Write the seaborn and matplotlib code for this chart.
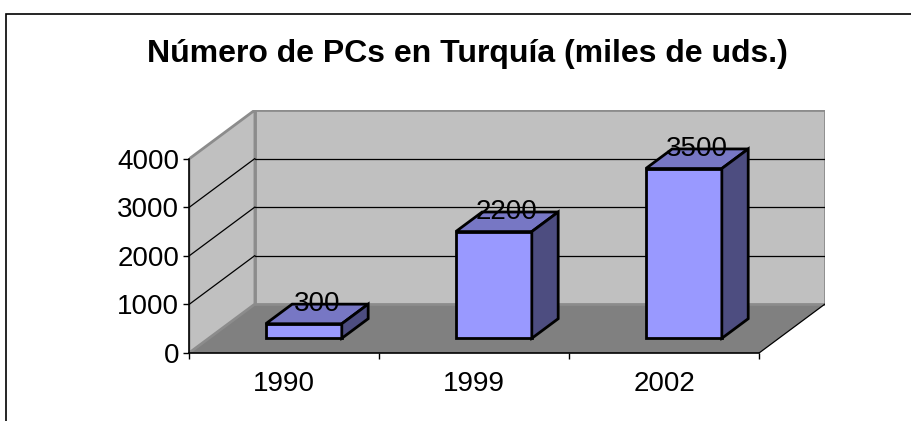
import numpy as np
import pandas as pd
import matplotlib
matplotlib.use("Agg")
import matplotlib.pyplot as plt
from matplotlib.patches import Polygon, Rectangle
import seaborn as sns

# data
years = ["1990", "1999", "2002"]
pcs = [300, 2200, 3500]
y_ticks = [0, 1000, 2000, 3000, 4000]
title = "Número de PCs en Turquía (miles de uds.)"

# fake 3d look: depth of the plot box in data units
DX = 0.347
DY = 1010
BAR_W = 0.4
D0, D1 = 0.3, 0.7   # bars sit between these depth fractions

sns.set_style("white")
plt.rcParams["font.family"] = ["Liberation Sans", "DejaVu Sans"]
plt.rcParams.update({"text.color": "black", "xtick.color": "black",
                     "ytick.color": "black", "axes.labelcolor": "black"})

fig = plt.figure(figsize=(9.12, 4.21), dpi=100)
ax = fig.add_axes([189 / 912, 68 / 421, 636 / 912, 243 / 421])
ax.patch.set_alpha(0)

ymax = y_ticks[-1]
x0, x1 = -0.5, len(years) - 0.5

# floor
ax.add_patch(Polygon([(x0, 0), (x1, 0), (x1 + DX, DY), (x0 + DX, DY)],
                     closed=True, facecolor="#808080", edgecolor="none", zorder=0))
ax.plot([x1, x1 + DX], [0, DY], color="black", lw=0.9, zorder=1)
# back wall
ax.add_patch(Rectangle((x0 + DX, DY), x1 - x0, ymax, facecolor="#C0C0C0",
                       edgecolor="#8c8c8c", lw=2, zorder=0.5))
# left wall
ax.add_patch(Polygon([(x0, 0), (x0 + DX, DY), (x0 + DX, ymax + DY), (x0, ymax)],
                     closed=True, facecolor="#C0C0C0", edgecolor="#8c8c8c", lw=2, zorder=0.6))

# gridlines on back wall and left wall
for v in y_ticks[1:-1]:
    ax.plot([x0 + DX, x1 + DX], [v + DY, v + DY], color="black", lw=0.9, zorder=1)
    ax.plot([x0, x0 + DX], [v, v + DY], color="black", lw=0.9, zorder=1)

# front faces of the bars
df = pd.DataFrame({"year": years, "pcs": pcs})
n_before = len(ax.patches)
sns.barplot(data=df, x="year", y="pcs", color="#9999FF", saturation=1,
            width=BAR_W, edgecolor="black", linewidth=2, ax=ax)
for p in ax.patches[n_before:]:
    p.set_x(p.get_x() + D0 * DX)
    p.set_y(D0 * DY)
    p.set_zorder(3)

# tops and sides
bd_x, bd_y = (D1 - D0) * DX, (D1 - D0) * DY
for i, v in enumerate(pcs):
    fx0 = i - BAR_W / 2 + D0 * DX
    fx1 = fx0 + BAR_W
    b = D0 * DY
    t = b + v
    ax.add_patch(Polygon([(fx0, t), (fx1, t), (fx1 + bd_x, t + bd_y), (fx0 + bd_x, t + bd_y)],
                         closed=True, facecolor="#7777C4", edgecolor="black", lw=2, zorder=3))
    ax.add_patch(Polygon([(fx1, b), (fx1 + bd_x, b + bd_y), (fx1 + bd_x, t + bd_y), (fx1, t)],
                         closed=True, facecolor="#4D4D80", edgecolor="black", lw=2, zorder=3))
    ax.text(i + 0.5 * DX, v + 0.5 * DY + 210, str(v), ha="center", va="center",
            fontsize=20, color="black", zorder=5)

# limits after seaborn, which resets them
ax.set_xlim(x0, x1 + DX)
ax.set_ylim(0, ymax + DY)

# axes
for s in ["top", "right"]:
    ax.spines[s].set_visible(False)
ax.spines["left"].set_bounds(0, ymax)
ax.spines["bottom"].set_bounds(x0, x1)
for s in ["left", "bottom"]:
    ax.spines[s].set_color("black")
    ax.spines[s].set_linewidth(1.2)
    ax.spines[s].set_zorder(2)

ax.set_yticks(y_ticks)
ax.set_yticklabels([str(v) for v in y_ticks])
ax.set_xticks(range(len(years)))
ax.set_xticklabels(years)
ax.set_xticks(np.arange(x0, x1 + 0.01, 1.0), minor=True)
ax.tick_params(axis="y", length=4, width=1, pad=3, labelsize=20, left=True)
ax.tick_params(axis="x", which="major", length=0, pad=13, labelsize=20)
ax.tick_params(axis="x", which="minor", length=4, width=1, bottom=True)
ax.set_xlabel("")
ax.set_ylabel("")

fig.text(467 / 912, 1 - 54 / 421, title, ha="center", va="center",
         fontsize=23, fontweight="bold")

# chart frame (runs off the right and bottom edge)
fig.patches.append(Rectangle((6 / 912, -0.2), 1.2, (421 - 14) / 421 + 0.2,
                             transform=fig.transFigure, fill=False,
                             edgecolor="black", lw=1.2))

fig.savefig("out.png", dpi=100)
